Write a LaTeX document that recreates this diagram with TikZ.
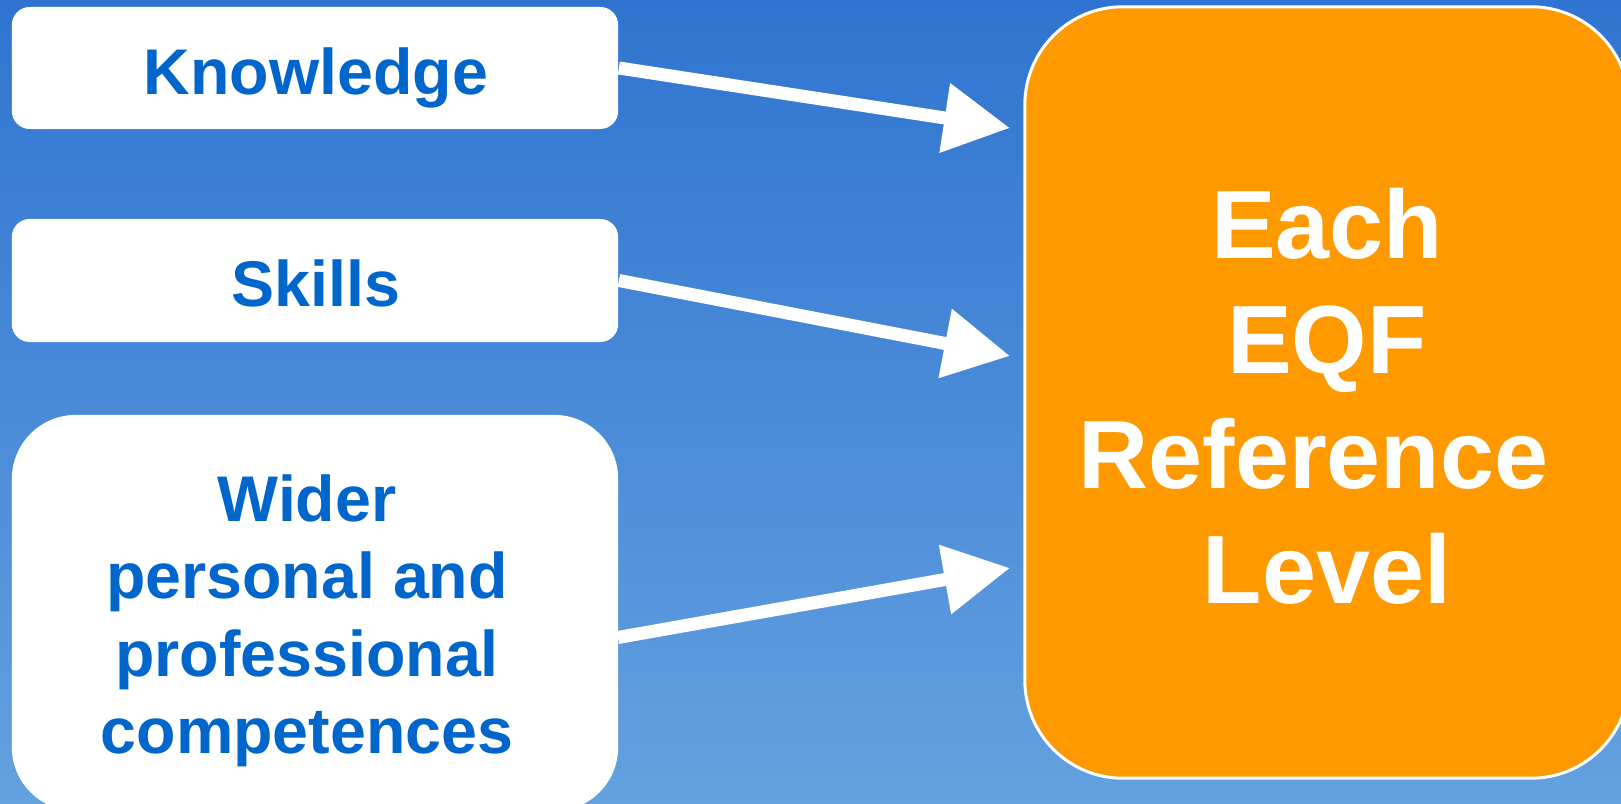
\documentclass[tikz,border=0pt]{standalone}
\usepackage{fontspec}
\setmainfont{Liberation Sans}
\usetikzlibrary{arrows.meta}
\definecolor{bgtop}{HTML}{2F74D0}
\definecolor{bgbot}{HTML}{64A1E0}
\definecolor{txtblue}{HTML}{0066CC}
\definecolor{eqforange}{HTML}{FF9900}
\begin{document}
\begin{tikzpicture}[x=0.01cm,y=-0.01cm,
  inbox/.style={fill=white, draw=none, inner sep=0pt, minimum width=6.06cm},
  lbl/.style={text=txtblue, font=\bfseries\fontsize{0.645cm}{0.775cm}\selectfont, inner sep=0pt},
  biglbl/.style={text=white, font=\bfseries\fontsize{0.97cm}{1.15cm}\selectfont, inner sep=0pt},
  feed/.style={draw=white, line width=0.13cm, -{Triangle[length=0.66cm, width=0.67cm]}}]
\useasboundingbox (0,0) rectangle (1621,804);
\clip (0,0) rectangle (1621,804);
\shade[top color=bgtop, bottom color=bgbot] (0,0) rectangle (1621,804);
% left boxes
\node[inbox, rounded corners=0.18cm, minimum height=1.22cm] (know) at (315,68) {};
\node[inbox, rounded corners=0.18cm, minimum height=1.23cm] (skills) at (315,280.5) {};
\node[inbox, rounded corners=0.64cm, minimum height=3.96cm] (wider) at (315,613) {};
% target box
\node[fill=eqforange, draw=white, line width=0.03cm, rounded corners=0.98cm, inner sep=0pt,
      minimum width=6.04cm, minimum height=7.71cm] (eqf) at (1327,392.5) {};
% labels
\node[lbl, anchor=base] (tknow) at (316,95) {Knowledge};
\node[lbl, anchor=base] (tskills) at (316,307) {Skills};
\node[lbl, align=center] (twider) at (307,621) {Wider\\personal and\\professional\\competences};
\node[biglbl, align=center] (teqf) at (1327,396) {Each\\EQF\\Reference\rule{0.27cm}{0pt}\\Level};
% arrows
\coordinate (e1) at (1010,128);
\coordinate (e2) at (1010,356);
\coordinate (e3) at (1010,568);
\coordinate (s3) at (618,637.5);
\draw[feed] (know.east) -- (e1);
\draw[feed] (skills.east) -- (e2);
\draw[feed] (s3) -- (e3);
\end{tikzpicture}
\end{document}
